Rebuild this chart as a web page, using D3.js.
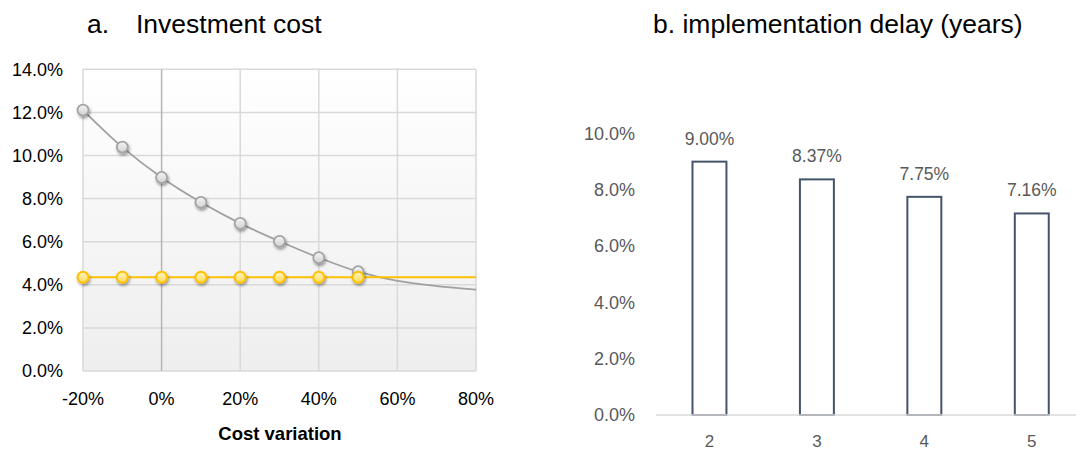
<!DOCTYPE html>
<html>
<head>
<meta charset="utf-8">
<script src="https://cdn.jsdelivr.net/npm/d3@7"></script>
<style>
  html, body { margin: 0; padding: 0; background: #ffffff; }
  svg { display: block; }
</style>
</head>
<body>
<svg id="chart" width="1076" height="452"></svg>
<script>
// ---------- data ----------
const costVariation = [-0.2, -0.1, 0, 0.1, 0.2, 0.3, 0.4, 0.5];
const irrByCost = [0.1211, 0.1039, 0.0898, 0.0783, 0.0685, 0.0602, 0.0526, 0.0461];
const trendCost = [-0.2, -0.1, 0, 0.1, 0.2, 0.3, 0.4, 0.5, 0.6, 0.7, 0.8];
const trendIrr = [0.1211, 0.1039, 0.0898, 0.0783, 0.0685, 0.0602, 0.0526, 0.0461, 0.0418, 0.0394, 0.0378];
const hurdleRate = [0.0435, 0.0435, 0.0435, 0.0435, 0.0435, 0.0435, 0.0435, 0.0435];
const hurdleLineX = [-0.2, 0.8];
const hurdleLineY = [0.0435, 0.0435];
const costXTicks = [-0.2, 0, 0.2, 0.4, 0.6, 0.8];
const costXLabels = ["-20%", "0%", "20%", "40%", "60%", "80%"];
const costYTicks = [0, 0.02, 0.04, 0.06, 0.08, 0.10, 0.12, 0.14];

const delayYears = ["2", "3", "4", "5"];
const delayIrr = [0.09, 0.0837, 0.0775, 0.0716];
const delayLabels = ["9.00%", "8.37%", "7.75%", "7.16%"];
const delayYTicks = [0, 0.02, 0.04, 0.06, 0.08, 0.10];

const titleA = "a.", titleAText = "Investment cost";
const titleB = "b. implementation delay (years)";
const xAxisTitleA = "Cost variation";

// ---------- setup ----------
const svg = d3.select("#chart");
const FONT = "'Liberation Sans', Arial, sans-serif";
const defs = svg.append("defs");

const bg = defs.append("linearGradient").attr("id", "plotBg")
  .attr("x1", 0).attr("y1", 0).attr("x2", 0).attr("y2", 1);
bg.append("stop").attr("offset", "0%").attr("stop-color", "#ffffff");
bg.append("stop").attr("offset", "100%").attr("stop-color", "#eeeeee");

const gGray = defs.append("linearGradient").attr("id", "mkGray")
  .attr("x1", 0).attr("y1", 0).attr("x2", 0).attr("y2", 1);
gGray.append("stop").attr("offset", "0%").attr("stop-color", "#f4f4f4");
gGray.append("stop").attr("offset", "100%").attr("stop-color", "#d2d2d2");

const gYel = defs.append("linearGradient").attr("id", "mkYel")
  .attr("x1", 0).attr("y1", 0).attr("x2", 0).attr("y2", 1);
gYel.append("stop").attr("offset", "0%").attr("stop-color", "#fff4c2");
gYel.append("stop").attr("offset", "100%").attr("stop-color", "#ffdc5c");

const sh = defs.append("filter").attr("id", "shadow")
  .attr("x", "-50%").attr("y", "-50%").attr("width", "200%").attr("height", "200%");
sh.append("feDropShadow").attr("dx", 1).attr("dy", 2).attr("stdDeviation", 1.6)
  .attr("flood-color", "#000").attr("flood-opacity", 0.4);

// ---------- chart a ----------
const xA = d3.scaleLinear().domain([-0.2, 0.8]).range([83, 476]);
const yA = d3.scaleLinear().domain([0, 0.14]).range([371, 69.3]);

svg.append("rect")
  .attr("x", xA(-0.2)).attr("y", yA(0.14))
  .attr("width", xA(0.8) - xA(-0.2)).attr("height", yA(0) - yA(0.14))
  .attr("fill", "url(#plotBg)");

const gridA = svg.append("g");
gridA.selectAll("line.h").data(costYTicks).join("line")
  .attr("x1", xA(-0.2)).attr("x2", xA(0.8))
  .attr("y1", d => yA(d)).attr("y2", d => yA(d))
  .attr("stroke", "#d9d9d9").attr("stroke-width", 1.5);
gridA.selectAll("line.v").data(costXTicks.filter(d => d !== 0)).join("line")
  .attr("y1", yA(0)).attr("y2", yA(0.14))
  .attr("x1", d => xA(d)).attr("x2", d => xA(d))
  .attr("stroke", "#d9d9d9").attr("stroke-width", 1.5);
svg.append("line")
  .attr("x1", xA(0)).attr("x2", xA(0)).attr("y1", yA(0)).attr("y2", yA(0.14))
  .attr("stroke", "#b5b5b5").attr("stroke-width", 1.5);

svg.append("g").selectAll("text").data(costYTicks).join("text")
  .attr("x", 63).attr("y", d => yA(d)).attr("dy", "0.35em")
  .attr("text-anchor", "end").attr("font-family", FONT).attr("font-size", 18)
  .attr("fill", "#000").text(d => d3.format(".1%")(d));
svg.append("g").selectAll("text").data(d3.zip(costXTicks, costXLabels)).join("text")
  .attr("x", d => xA(d[0])).attr("y", 405)
  .attr("text-anchor", "middle").attr("font-family", FONT).attr("font-size", 18)
  .attr("fill", "#000").text(d => d[1]);
svg.append("text").attr("x", 280).attr("y", 440).attr("text-anchor", "middle")
  .attr("font-family", FONT).attr("font-size", 18.5).attr("font-weight", "bold")
  .attr("fill", "#000").text(xAxisTitleA);

svg.append("text").attr("x", 87).attr("y", 33).attr("font-family", FONT)
  .attr("font-size", 26.5).attr("fill", "#000").text(titleA);
svg.append("text").attr("x", 136).attr("y", 33).attr("font-family", FONT)
  .attr("font-size", 26.5).attr("fill", "#000").text(titleAText);

const lineGen = d3.line().x(d => xA(d[0])).y(d => yA(d[1])).curve(d3.curveCatmullRom.alpha(0.5));
svg.append("path").datum(d3.zip(trendCost, trendIrr))
  .attr("d", lineGen).attr("fill", "none")
  .attr("stroke", "#a0a0a0").attr("stroke-width", 1.75);
svg.append("path").datum(d3.zip(hurdleLineX, hurdleLineY))
  .attr("d", d3.line().x(d => xA(d[0])).y(d => yA(d[1])))
  .attr("fill", "none").attr("stroke", "#ffc000").attr("stroke-width", 2);

svg.append("g").selectAll("circle").data(d3.zip(costVariation, irrByCost)).join("circle")
  .attr("cx", d => xA(d[0])).attr("cy", d => yA(d[1])).attr("r", 5.5)
  .attr("fill", "url(#mkGray)").attr("stroke", "#a3a3a3").attr("stroke-width", 1.75)
  .attr("filter", "url(#shadow)");
svg.append("g").selectAll("circle").data(d3.zip(costVariation, hurdleRate)).join("circle")
  .attr("cx", d => xA(d[0])).attr("cy", d => yA(d[1])).attr("r", 5.5)
  .attr("fill", "url(#mkYel)").attr("stroke", "#ffc000").attr("stroke-width", 2)
  .attr("filter", "url(#shadow)");

// ---------- chart b ----------
const xB = d3.scaleBand().domain(delayYears).range([655.75, 1085.5])
  .paddingInner(0.684).paddingOuter(0.342);
const yB = d3.scaleLinear().domain([0, 0.10]).range([415, 133.5]);

svg.append("g").selectAll("text").data(delayYTicks).join("text")
  .attr("x", 635).attr("y", d => yB(d)).attr("dy", "0.35em")
  .attr("text-anchor", "end").attr("font-family", FONT).attr("font-size", 18)
  .attr("fill", "#595959").text(d => d3.format(".1%")(d));

svg.append("g").selectAll("rect").data(d3.zip(delayYears, delayIrr)).join("rect")
  .attr("x", d => xB(d[0])).attr("width", xB.bandwidth())
  .attr("y", d => yB(d[1])).attr("height", d => yB(0) - yB(d[1]))
  .attr("fill", "#ffffff").attr("stroke", "#44546a").attr("stroke-width", 2);

svg.append("line").attr("x1", 656).attr("x2", 1076)
  .attr("y1", yB(0)).attr("y2", yB(0))
  .attr("stroke", "#d9d9d9").attr("stroke-width", 1.5);

svg.append("g").selectAll("text").data(d3.zip(delayYears, delayIrr, delayLabels)).join("text")
  .attr("x", d => xB(d[0]) + xB.bandwidth() / 2).attr("y", d => yB(d[1]) - 17)
  .attr("text-anchor", "middle").attr("font-family", FONT).attr("font-size", 17.5)
  .attr("fill", "#595959").text(d => d[2]);

svg.append("g").selectAll("text").data(delayYears).join("text")
  .attr("x", d => xB(d) + xB.bandwidth() / 2).attr("y", 447)
  .attr("text-anchor", "middle").attr("font-family", FONT).attr("font-size", 17)
  .attr("fill", "#595959").text(d => d);

svg.append("text").attr("x", 653).attr("y", 33).attr("font-family", FONT)
  .attr("font-size", 26.5).attr("fill", "#000").text(titleB);
</script>
</body>
</html>
